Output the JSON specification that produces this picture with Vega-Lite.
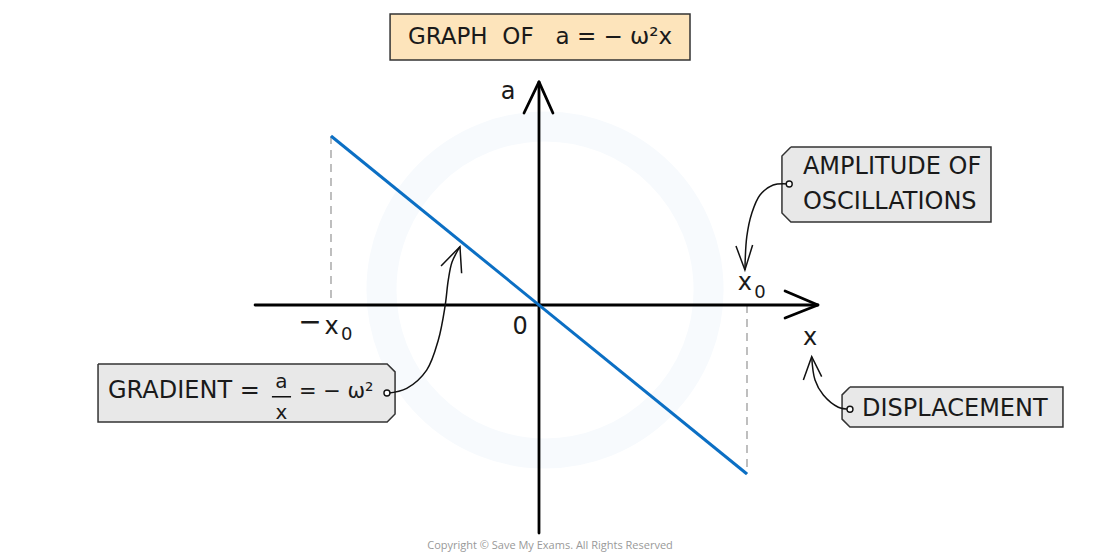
{
  "$schema": "https://vega.github.io/schema/vega-lite/v6.json",
  "width": 1100,
  "height": 557,
  "autosize": {"type": "fit", "contains": "padding"},
  "padding": 0,
  "background": "white",
  "config": {"view": {"stroke": null}},
  "datasets": {
    "wm": [{"x": 0.029, "y": 0.089}],
    "axes": [
      {"g": "h", "i": 0, "x": -1.365, "y": 0}, {"g": "h", "i": 1, "x": 1.341, "y": 0},
      {"g": "ha", "i": 0, "x": 1.183, "y": 0.083}, {"g": "ha", "i": 1, "x": 1.341, "y": 0}, {"g": "ha", "i": 2, "x": 1.183, "y": -0.077},
      {"g": "v", "i": 0, "x": 0, "y": -1.349}, {"g": "v", "i": 1, "x": 0, "y": 1.32},
      {"g": "va", "i": 0, "x": -0.072, "y": 1.136}, {"g": "va", "i": 1, "x": 0, "y": 1.32}, {"g": "va", "i": 2, "x": 0.067, "y": 1.136}
    ],
    "graph": [{"x": -1, "y": 1}, {"x": 1, "y": -1}],
    "dashes": [
      {"g": "l", "i": 0, "x": -1, "y": 1}, {"g": "l", "i": 1, "x": -1, "y": 0},
      {"g": "r", "i": 0, "x": 1, "y": 0}, {"g": "r", "i": 1, "x": 1, "y": -1}
    ],
    "curves": [
      {"g": "grad", "i": 0, "x": -0.729, "y": -0.522},
      {"g": "grad", "i": 1, "x": -0.636, "y": -0.493},
      {"g": "grad", "i": 2, "x": -0.54, "y": -0.385},
      {"g": "grad", "i": 3, "x": -0.484, "y": -0.207},
      {"g": "grad", "i": 4, "x": -0.452, "y": -0.01},
      {"g": "grad", "i": 5, "x": -0.436, "y": 0.148},
      {"g": "grad", "i": 6, "x": -0.418, "y": 0.254},
      {"g": "grad", "i": 7, "x": -0.38, "y": 0.345},
      {"g": "amp", "i": 0, "x": 1.203, "y": 0.716},
      {"g": "amp", "i": 1, "x": 1.126, "y": 0.71},
      {"g": "amp", "i": 2, "x": 1.0625, "y": 0.651},
      {"g": "amp", "i": 3, "x": 1.023, "y": 0.543},
      {"g": "amp", "i": 4, "x": 0.999, "y": 0.404},
      {"g": "amp", "i": 5, "x": 0.99, "y": 0.207},
      {"g": "disp", "i": 0, "x": 1.495, "y": -0.617},
      {"g": "disp", "i": 1, "x": 1.439, "y": -0.605},
      {"g": "disp", "i": 2, "x": 1.367, "y": -0.533},
      {"g": "disp", "i": 3, "x": 1.327, "y": -0.444},
      {"g": "disp", "i": 4, "x": 1.311, "y": -0.306}
    ],
    "heads": [
      {"g": "gh", "i": 0, "x": -0.471, "y": 0.231}, {"g": "gh", "i": 1, "x": -0.38, "y": 0.345}, {"g": "gh", "i": 2, "x": -0.372, "y": 0.188},
      {"g": "ah", "i": 0, "x": 0.947, "y": 0.349}, {"g": "ah", "i": 1, "x": 0.99, "y": 0.207}, {"g": "ah", "i": 2, "x": 1.027, "y": 0.355},
      {"g": "dh", "i": 0, "x": 1.271, "y": -0.444}, {"g": "dh", "i": 1, "x": 1.311, "y": -0.306}, {"g": "dh", "i": 2, "x": 1.359, "y": -0.424},
      {"g": "bar", "i": 0, "x": -1.284, "y": -0.543}, {"g": "bar", "i": 1, "x": -1.192, "y": -0.543}
    ],
    "boxes": [
      {"g": "amp", "i": 0, "x": 1.211, "y": 0.935}, {"g": "amp", "i": 1, "x": 2.173, "y": 0.935}, {"g": "amp", "i": 2, "x": 2.173, "y": 0.491},
      {"g": "amp", "i": 3, "x": 1.211, "y": 0.491}, {"g": "amp", "i": 4, "x": 1.168, "y": 0.544}, {"g": "amp", "i": 5, "x": 1.168, "y": 0.882},
      {"g": "amp", "i": 6, "x": 1.211, "y": 0.935},
      {"g": "disp", "i": 0, "x": 1.495, "y": -0.485}, {"g": "disp", "i": 1, "x": 2.519, "y": -0.485}, {"g": "disp", "i": 2, "x": 2.519, "y": -0.722},
      {"g": "disp", "i": 3, "x": 1.495, "y": -0.722}, {"g": "disp", "i": 4, "x": 1.457, "y": -0.675}, {"g": "disp", "i": 5, "x": 1.457, "y": -0.532},
      {"g": "disp", "i": 6, "x": 1.495, "y": -0.485},
      {"g": "grad", "i": 0, "x": -2.12, "y": -0.349}, {"g": "grad", "i": 1, "x": -0.73, "y": -0.349}, {"g": "grad", "i": 2, "x": -0.692, "y": -0.396},
      {"g": "grad", "i": 3, "x": -0.692, "y": -0.645}, {"g": "grad", "i": 4, "x": -0.73, "y": -0.692}, {"g": "grad", "i": 5, "x": -2.12, "y": -0.692},
      {"g": "grad", "i": 6, "x": -2.12, "y": -0.349}
    ],
    "titlebox": [{"x": -0.716, "x2": 0.726, "y": 1.722, "y2": 1.45}],
    "dots": [{"x": 1.203, "y": 0.716}, {"x": 1.495, "y": -0.617}, {"x": -0.731, "y": -0.521}],
    "biglabels": [
      {"t": "a", "x": -0.149, "y": 1.26},
      {"t": "x", "x": 1.303, "y": -0.195},
      {"t": "x", "x": 0.99, "y": 0.13},
      {"t": "x", "x": -0.997, "y": -0.128},
      {"t": "0", "x": -0.091, "y": -0.128}
    ],
    "minus": [{"t": "−", "x": -1.101, "y": -0.108}],
    "subs": [{"t": "0", "x": 1.0625, "y": 0.069}, {"t": "0", "x": -0.925, "y": -0.178}],
    "title": [{"t": "GRAPH\u00a0 OF\u00a0\u00a0 a = − ω²x", "x": 0.005, "y": 1.586}],
    "callouts": [
      {"t": "AMPLITUDE OF", "x": 1.269, "y": 0.817},
      {"t": "OSCILLATIONS", "x": 1.269, "y": 0.609},
      {"t": "DISPLACEMENT", "x": 1.553, "y": -0.615},
      {"t": "GRADIENT =", "x": -2.072, "y": -0.506}
    ],
    "gradtail": [{"t": "= − ω²", "x": -1.154, "y": -0.512}],
    "frac": [{"t": "a", "x": -1.238, "y": -0.454}, {"t": "x", "x": -1.238, "y": -0.641}],
    "credit": [{"t": "Copyright © Save My Exams. All Rights Reserved", "x": 0.053, "y": -1.426}]
  },
  "encoding": {
    "x": {"field": "x", "type": "quantitative", "scale": {"domain": [-2.5913, 2.6971], "nice": false, "zero": false}, "axis": null},
    "y": {"field": "y", "type": "quantitative", "scale": {"domain": [-1.4911, 1.8047], "nice": false, "zero": false}, "axis": null}
  },
  "layer": [
    {"data": {"name": "wm"}, "mark": {"type": "point", "shape": "circle", "size": 107000, "filled": false, "stroke": "#f7fafd", "strokeWidth": 30, "opacity": 1}},
    {"data": {"name": "dashes"}, "mark": {"type": "line", "stroke": "#aaaaaa", "strokeWidth": 1.5, "strokeDash": [8, 6]}, "encoding": {"detail": {"field": "g"}, "order": {"field": "i"}}},
    {"data": {"name": "axes"}, "mark": {"type": "line", "stroke": "#000000", "strokeWidth": 2.8, "strokeCap": "round", "strokeJoin": "round"}, "encoding": {"detail": {"field": "g"}, "order": {"field": "i"}}},
    {"data": {"name": "graph"}, "mark": {"type": "line", "stroke": "#0b6fc4", "strokeWidth": 3}, "encoding": {}},
    {"data": {"name": "boxes"}, "mark": {"type": "line", "fill": "#e8e8e8", "stroke": "#333333", "strokeWidth": 1.5, "strokeJoin": "miter"}, "encoding": {"detail": {"field": "g"}, "order": {"field": "i"}}},
    {"data": {"name": "titlebox"}, "mark": {"type": "rect", "fill": "#fde4bb", "stroke": "#333333", "strokeWidth": 1.5}, "encoding": {"x2": {"field": "x2"}, "y2": {"field": "y2"}}},
    {"data": {"name": "curves"}, "mark": {"type": "line", "stroke": "#111111", "strokeWidth": 1.5, "interpolate": "catmull-rom"}, "encoding": {"detail": {"field": "g"}, "order": {"field": "i"}}},
    {"data": {"name": "heads"}, "mark": {"type": "line", "stroke": "#111111", "strokeWidth": 1.5, "strokeJoin": "miter"}, "encoding": {"detail": {"field": "g"}, "order": {"field": "i"}}},
    {"data": {"name": "dots"}, "mark": {"type": "point", "shape": "circle", "size": 36, "filled": true, "fill": "white", "stroke": "#111111", "strokeWidth": 1.4, "opacity": 1}},
    {"data": {"name": "biglabels"}, "mark": {"type": "text", "font": "DejaVu Sans", "fontSize": 24, "color": "#1a1a1a", "align": "center", "baseline": "middle"}, "encoding": {"text": {"field": "t"}}},
    {"data": {"name": "minus"}, "mark": {"type": "text", "font": "DejaVu Sans", "fontSize": 28, "color": "#1a1a1a", "align": "center", "baseline": "middle"}, "encoding": {"text": {"field": "t"}}},
    {"data": {"name": "subs"}, "mark": {"type": "text", "font": "DejaVu Sans", "fontSize": 18, "color": "#1a1a1a", "align": "center", "baseline": "middle"}, "encoding": {"text": {"field": "t"}}},
    {"data": {"name": "title"}, "mark": {"type": "text", "font": "DejaVu Sans", "fontSize": 23, "color": "#1a1a1a", "align": "center", "baseline": "middle"}, "encoding": {"text": {"field": "t"}}},
    {"data": {"name": "callouts"}, "mark": {"type": "text", "font": "DejaVu Sans", "fontSize": 24, "color": "#1a1a1a", "align": "left", "baseline": "middle"}, "encoding": {"text": {"field": "t"}}},
    {"data": {"name": "gradtail"}, "mark": {"type": "text", "font": "DejaVu Sans", "fontSize": 21, "color": "#1a1a1a", "align": "left", "baseline": "middle"}, "encoding": {"text": {"field": "t"}}},
    {"data": {"name": "frac"}, "mark": {"type": "text", "font": "DejaVu Sans", "fontSize": 20, "color": "#1a1a1a", "align": "center", "baseline": "middle"}, "encoding": {"text": {"field": "t"}}},
    {"data": {"name": "credit"}, "mark": {"type": "text", "font": "Open Sans", "fontSize": 11, "color": "#999999", "align": "center", "baseline": "middle"}, "encoding": {"text": {"field": "t"}}}
  ]
}
